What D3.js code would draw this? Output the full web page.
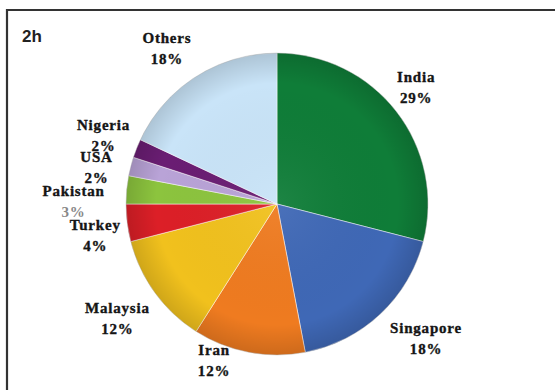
<!DOCTYPE html>
<html>
<head>
<meta charset="utf-8">
<script src="https://cdn.jsdelivr.net/npm/d3@7"></script>
<style>
  body { margin: 0; background: #fff; }
  svg { display: block; }
</style>
</head>
<body>
<div id="chart"></div>
<script>
// data (percent shares, clockwise from 12 o'clock)
var countries = ["India", "Singapore", "Iran", "Malaysia", "Turkey", "Pakistan", "USA", "Nigeria", "Others"];
var shares = [29, 18, 12, 12, 4, 3, 2, 2, 18];
var sliceColors = ["#0f7d38", "#3f68b6", "#ef7b20", "#f1c11d", "#dc1f27", "#8cc43e", "#b9a3d7", "#6a1d73", "#c9e4f8"];

// hand nudges for the labels, from the label arc centroid
var labelNudge = {
    India: [-4, -11], Singapore: [25, -3], Iran: [-29, -27], Malaysia: [-13, 2],
    Turkey: [-2, 3], Pakistan: [-23, 9], USA: [-5, 3], Nigeria: [-5, -7], Others: [-13, -8]
};

var width = 555, height = 390;
var cx = 277, cy = 204, radius = 151;

var svg = d3.select("#chart").append("svg")
    .attr("width", width)
    .attr("height", height);

// frame (runs off right and bottom edge like the scan)
svg.append("path")
    .attr("d", "M7,392 L7,10 L557,10")
    .attr("fill", "none")
    .attr("stroke", "#333")
    .attr("stroke-width", 2.2);

svg.append("text")
    .attr("x", 22)
    .attr("y", 42)
    .attr("font-family", "'Liberation Sans', Arial, sans-serif")
    .attr("font-weight", "bold")
    .attr("font-size", 17)
    .attr("fill", "#222")
    .text("2h");

var defs = svg.append("defs");
var grad = defs.append("radialGradient")
    .attr("id", "shade")
    .attr("cx", "50%").attr("cy", "50%").attr("r", "50%");
grad.append("stop").attr("offset", "0%").attr("stop-color", "#fff").attr("stop-opacity", 0.06);
grad.append("stop").attr("offset", "80%").attr("stop-color", "#000").attr("stop-opacity", 0);
grad.append("stop").attr("offset", "100%").attr("stop-color", "#000").attr("stop-opacity", 0.14);

var data = countries.map(function(c, i) {
    return {name: c, value: shares[i], color: sliceColors[i]};
});

var pie = d3.pie()
    .sort(null)
    .value(function(d) { return d.value; });

var arc = d3.arc().innerRadius(0).outerRadius(radius);
var labelArc = d3.arc().innerRadius(radius * 1.2).outerRadius(radius * 1.2);

var g = svg.append("g")
    .attr("transform", "translate(" + cx + "," + cy + ")");

var arcs = pie(data);

g.selectAll("path.slice")
    .data(arcs)
    .enter().append("path")
    .attr("class", "slice")
    .attr("d", arc)
    .attr("fill", function(d) { return d.data.color; })
    .attr("stroke", "rgba(255,255,255,0.55)")
    .attr("stroke-width", 0.9);

g.append("circle")
    .attr("r", radius)
    .attr("fill", "url(#shade)")
    .attr("stroke", "rgba(0,0,0,0.12)")
    .attr("stroke-width", 1);

// labels: name on top, percent below
var labels = g.selectAll("g.lbl")
    .data(arcs)
    .enter().append("g")
    .attr("class", "lbl")
    .attr("transform", function(d) {
        var c = labelArc.centroid(d);
        var n = labelNudge[d.data.name];
        return "translate(" + (c[0] + n[0]) + "," + (c[1] + n[1]) + ")";
    })
    .attr("font-family", "'Liberation Serif', 'Times New Roman', serif")
    .attr("font-weight", "bold")
    .attr("font-size", 15)
    .attr("letter-spacing", 0.8)
    .attr("text-anchor", "middle");

labels.append("text")
    .attr("y", 0)
    .attr("fill", "#151515")
    .attr("stroke", "#151515")
    .attr("stroke-width", 0.35)
    .text(function(d) { return d.data.name; });

labels.append("text")
    .attr("y", 21)
    .attr("fill", function(d) { return d.data.name == "Pakistan" ? "#888" : "#151515"; })
    .attr("stroke", function(d) { return d.data.name == "Pakistan" ? "none" : "#151515"; })
    .attr("stroke-width", 0.35)
    .text(function(d) { return d.data.value + "%"; });
</script>
</body>
</html>
